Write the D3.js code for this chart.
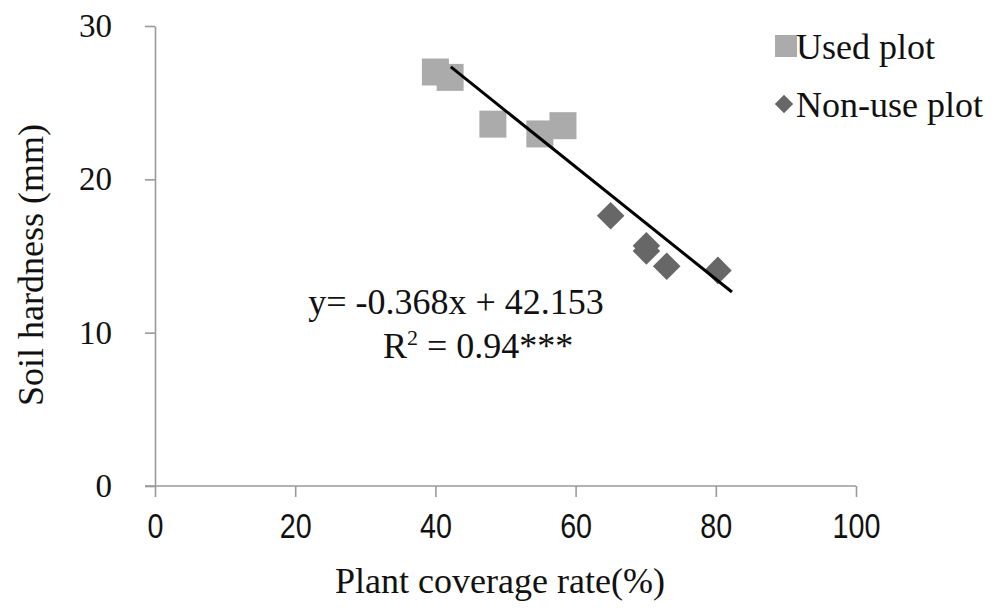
<!DOCTYPE html>
<html>
<head>
<meta charset="utf-8">
<script src="https://cdn.jsdelivr.net/npm/d3@7"></script>
<style>
  body { margin: 0; background: #fff; }
  svg { display: block; }
</style>
</head>
<body>
<svg id="chart" width="994" height="610"></svg>
<script>
// values
const usedX = [40.0, 42.1, 48.2, 54.9, 58.2];
const usedY = [27.0, 26.65, 23.6, 22.96, 23.5];
const nonUseX = [65.0, 70.1, 70.1, 73.0, 80.3];
const nonUseY = [17.63, 15.67, 15.33, 14.33, 14.06];
// trend line as drawn (end points)
const trendX = [42.2, 82.3];
const trendY = [27.33, 12.65];
const xTicks = [0, 20, 40, 60, 80, 100];
const yTicks = [0, 10, 20, 30];
const legendLabels = ["Used plot", "Non-use plot"];

const serif = "'Liberation Serif', 'Times New Roman', serif";
const sans = "'Liberation Sans', Arial, sans-serif";

const svg = d3.select("#chart");

const x = d3.scaleLinear().domain([0, 100]).range([155, 856]);
const y = d3.scaleLinear().domain([0, 30]).range([486, 26]);

/* axes */
const xAxis = svg.append("g")
    .attr("transform", `translate(0,${y(0)})`)
    .call(d3.axisBottom(x).tickValues(xTicks).tickSize(11).tickSizeOuter(0).tickPadding(0));
xAxis.select(".domain").attr("d", `M${x(0) - 10},0H${x(100)}`);

const yAxis = svg.append("g")
    .attr("transform", `translate(${x(0)},0)`)
    .call(d3.axisLeft(y).tickValues(yTicks).tickSize(10).tickSizeOuter(0).tickPadding(33));

svg.selectAll(".domain, .tick line")
    .attr("stroke", "#9a9a9a")
    .attr("stroke-width", 1.6);

// condensed look of the x tick labels
xAxis.selectAll(".tick text")
    .attr("font-family", sans)
    .attr("font-size", 35)
    .attr("fill", "#111")
    .attr("dy", null)
    .attr("y", 52)
    .attr("transform", "scale(0.82,1)");

yAxis.selectAll(".tick text")
    .attr("font-family", serif)
    .attr("font-size", 33)
    .attr("fill", "#111");

/* axis titles */
svg.append("text")
    .attr("x", 500)
    .attr("y", 593)
    .attr("text-anchor", "middle")
    .attr("font-family", serif)
    .attr("font-size", 36)
    .attr("fill", "#111")
    .text("Plant coverage rate(%)");

svg.append("text")
    .attr("transform", "translate(43,265) rotate(-90)")
    .attr("text-anchor", "middle")
    .attr("font-family", serif)
    .attr("font-size", 36)
    .attr("fill", "#111")
    .text("Soil hardness (mm)");

/* points */
const used = usedX.map((v, i) => ({x: v, y: usedY[i]}));
const nonUse = nonUseX.map((v, i) => ({x: v, y: nonUseY[i]}));

const square = d3.symbol().type(d3.symbolSquare).size(27 * 27);
const diamond = d3.symbol().type(d3.symbolSquare).size(19.5 * 19.5);

svg.append("g")
    .selectAll("path")
    .data(used)
    .join("path")
    .attr("d", square)
    .attr("fill", "#ababab")
    .attr("transform", d => `translate(${x(d.x)},${y(d.y)})`);

svg.append("g")
    .selectAll("path")
    .data(nonUse)
    .join("path")
    .attr("d", diamond)
    .attr("fill", "#676767")
    .attr("transform", d => `translate(${x(d.x)},${y(d.y)}) rotate(45)`);

/* trend line */
svg.append("path")
    .datum(trendX.map((v, i) => [v, trendY[i]]))
    .attr("fill", "none")
    .attr("stroke", "#000")
    .attr("stroke-width", 3)
    .attr("d", d3.line().x(d => x(d[0])).y(d => y(d[1])));

/* equation */
svg.append("text")
    .attr("x", 456)
    .attr("y", 314)
    .attr("text-anchor", "middle")
    .attr("font-family", serif)
    .attr("font-size", 36)
    .attr("fill", "#111")
    .text("y= -0.368x + 42.153");

const r2 = svg.append("text")
    .attr("x", 383)
    .attr("y", 358)
    .attr("font-family", serif)
    .attr("font-size", 36)
    .attr("fill", "#111");
r2.append("tspan").text("R");
r2.append("tspan").attr("font-size", 22).attr("dy", -13).text("2");
r2.append("tspan").attr("dy", 13).text(" = 0.94***");

/* legend */
const legend = svg.append("g");
legend.append("path")
    .attr("d", d3.symbol().type(d3.symbolSquare).size(22 * 22))
    .attr("fill", "#ababab")
    .attr("transform", "translate(786,46)");
legend.append("path")
    .attr("d", d3.symbol().type(d3.symbolSquare).size(13 * 13))
    .attr("fill", "#676767")
    .attr("transform", "translate(784,104) rotate(45)");
legend.selectAll("text")
    .data(legendLabels)
    .join("text")
    .attr("x", 796)
    .attr("y", (d, i) => 59 + i * 58)
    .attr("font-family", serif)
    .attr("font-size", 36)
    .attr("fill", "#111")
    .text(d => d);
</script>
</body>
</html>
